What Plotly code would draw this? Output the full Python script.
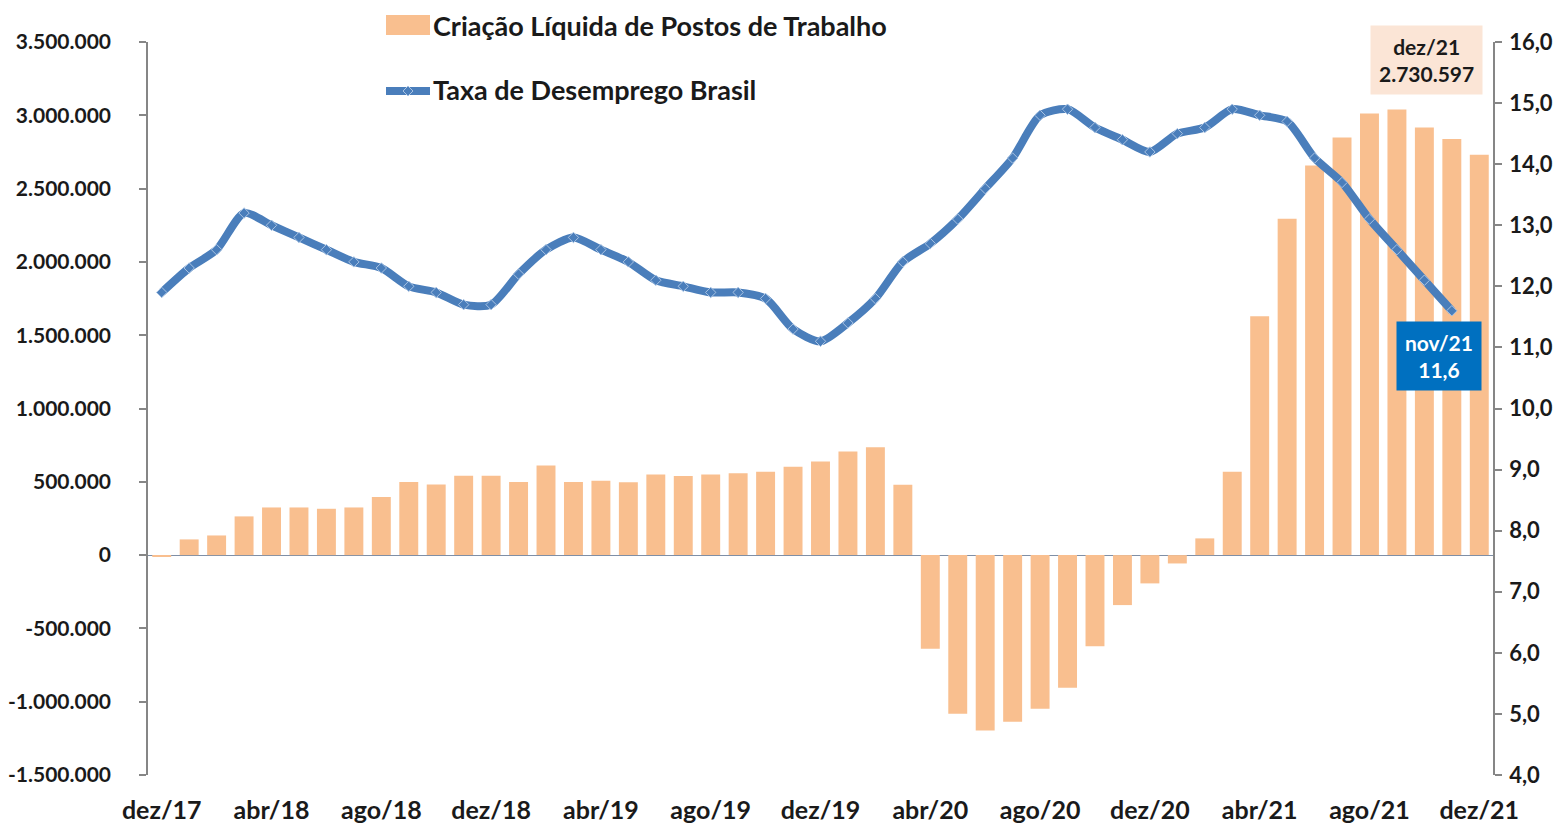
import plotly.graph_objects as go

categories = ["dez/17",
              "jan/18", "fev/18", "mar/18", "abr/18", "mai/18", "jun/18", "jul/18", "ago/18", "set/18", "out/18", "nov/18", "dez/18",
              "jan/19", "fev/19", "mar/19", "abr/19", "mai/19", "jun/19", "jul/19", "ago/19", "set/19", "out/19", "nov/19", "dez/19",
              "jan/20", "fev/20", "mar/20", "abr/20", "mai/20", "jun/20", "jul/20", "ago/20", "set/20", "out/20", "nov/20", "dez/20",
              "jan/21", "fev/21", "mar/21", "abr/21", "mai/21", "jun/21", "jul/21", "ago/21", "set/21", "out/21", "nov/21", "dez/21"]

postos = [-12000,
          107000, 134000, 264000, 325000, 325000, 316000, 325000, 396000, 498000, 482000, 541000, 541000,
          498000, 612000, 498000, 507000, 497000, 550000, 539000, 550000, 559000, 568000, 602000, 639000,
          707000, 735000, 480000, -639000, -1082000, -1196000, -1137000, -1048000, -905000, -621000, -341000, -193000,
          -57000, 114000, 568000, 1630000, 2294000, 2658000, 2849000, 3013000, 3040000, 2917000, 2838000, 2730597]

desemprego = [11.9,
              12.3, 12.6, 13.2, 13.0, 12.8, 12.6, 12.4, 12.3, 12.0, 11.9, 11.7, 11.7,
              12.2, 12.6, 12.8, 12.6, 12.4, 12.1, 12.0, 11.9, 11.9, 11.8, 11.3, 11.1,
              11.4, 11.8, 12.4, 12.7, 13.1, 13.6, 14.1, 14.8, 14.9, 14.6, 14.4, 14.2,
              14.5, 14.6, 14.9, 14.8, 14.7, 14.1, 13.7, 13.1, 12.6, 12.1, 11.6]

xtick_labels = ["dez/17", "abr/18", "ago/18", "dez/18", "abr/19", "ago/19", "dez/19",
                "abr/20", "ago/20", "dez/20", "abr/21", "ago/21", "dez/21"]

left_ticks = [-1500000, -1000000, -500000, 0, 500000, 1000000, 1500000, 2000000, 2500000, 3000000, 3500000]
left_ticktext = [f"{v:,}".replace(",", ".") for v in left_ticks]

serie_barras = "Criação Líquida de Postos de Trabalho"
serie_linha = "Taxa de Desemprego Brasil"

FONT = "Lato"
TXT = "#1a1a1a"
AXIS = "#868686"
BAR_C = "#F9BF8F"
LINE_C = "#4A7EBB"

fig = go.Figure()
fig.add_trace(go.Bar(
    x=categories, y=postos, name=serie_barras,
    marker=dict(color=BAR_C, line=dict(width=0)),
    yaxis="y", showlegend=False,
))
fig.add_trace(go.Scatter(
    x=categories[:len(desemprego)], y=desemprego, name=serie_linha,
    mode="lines+markers", line=dict(color=LINE_C, width=8, shape="spline", smoothing=0.7),
    marker=dict(symbol="diamond", size=8, color=LINE_C, line=dict(color="#A9C3E3", width=1)),
    yaxis="y2", showlegend=False,
))

# page body has an 8px margin: layout is 8px smaller and everything is offset by it
dom_top = 733 / 765

def px_x(p):
    return (p - 148) / 1345

def px_y(p):
    return (775 - p) / 765

shapes = [
    dict(type="rect", xref="paper", yref="paper",
         x0=px_x(386), x1=px_x(430), y0=px_y(35), y1=px_y(15),
         fillcolor=BAR_C, line=dict(width=0)),
    dict(type="line", xref="paper", yref="paper",
         x0=px_x(386), x1=px_x(430), y0=px_y(91), y1=px_y(91),
         line=dict(color=LINE_C, width=8)),
    dict(type="path", xref="paper", yref="paper", xsizemode="pixel", ysizemode="pixel",
         xanchor=px_x(408), yanchor=px_y(91), path="M -5 0 L 0 5 L 5 0 L 0 -5 Z",
         fillcolor=LINE_C, line=dict(color="#A9C3E3", width=1)),
]

fig.update_layout(
    width=1558, height=819,
    paper_bgcolor="white", plot_bgcolor="white",
    margin=dict(l=140, r=73, t=2, b=52, autoexpand=False),
    bargap=0.31,
    font=dict(family=FONT, size=20, color=TXT, weight="bold"),
    showlegend=False,
    xaxis=dict(
        type="category", range=[-0.5, 48.5], automargin=False,
        tickmode="array", tickvals=xtick_labels, ticktext=xtick_labels,
        showline=False, ticks="", showgrid=False, zeroline=False,
        ticklabelstandoff=18,
        tickfont=dict(family=FONT, size=25, color=TXT, weight="bold"),
    ),
    yaxis=dict(
        domain=[0, dom_top], automargin=False,
        range=[-1500000, 3500000], tickmode="array", tickvals=left_ticks, ticktext=left_ticktext,
        showline=True, linecolor=AXIS, linewidth=1.5,
        ticks="outside", ticklen=7, tickcolor=AXIS, tickwidth=1.5,
        showgrid=False, zeroline=True, zerolinecolor="#7f8fa6", zerolinewidth=1.2,
        ticklabelstandoff=24,
        tickfont=dict(family=FONT, size=21, color=TXT, weight="bold"),
    ),
    yaxis2=dict(
        domain=[0, dom_top], automargin=False,
        range=[4, 16], dtick=1, tick0=4, tickformat=".1f", overlaying="y", side="right",
        showline=True, linecolor=AXIS, linewidth=1.5,
        ticks="outside", ticklen=7, tickcolor=AXIS, tickwidth=1.5,
        showgrid=False, zeroline=False,
        ticklabelstandoff=3,
        tickfont=dict(family=FONT, size=22, color=TXT, weight="bold"),
    ),
    separators=",.",
    shapes=shapes,
    annotations=[
        dict(xref="paper", yref="paper", x=px_x(431), y=px_y(25), xanchor="left", yanchor="middle",
             text=serie_barras, showarrow=False,
             font=dict(family=FONT, size=27, color=TXT, weight="bold")),
        dict(xref="paper", yref="paper", x=px_x(431), y=px_y(90), xanchor="left", yanchor="middle",
             text=serie_linha, showarrow=False,
             font=dict(family=FONT, size=27, color=TXT, weight="bold")),
        dict(xref="paper", yref="paper", x=px_x(1426), y=px_y(60), xanchor="center", yanchor="middle",
             text="dez/21<br>2.730.597", showarrow=False, align="center",
             bgcolor="#FBE5D6", borderpad=8,
             font=dict(family=FONT, size=21, color=TXT, weight="bold")),
        dict(xref="paper", yref="paper", x=px_x(1439), y=px_y(356), xanchor="center", yanchor="middle",
             text="nov/21<br>11,6", showarrow=False, align="center",
             bgcolor="#0070C0", borderpad=8,
             font=dict(family=FONT, size=21, color="white", weight="bold")),
    ],
)

fig.write_html("out.html")
